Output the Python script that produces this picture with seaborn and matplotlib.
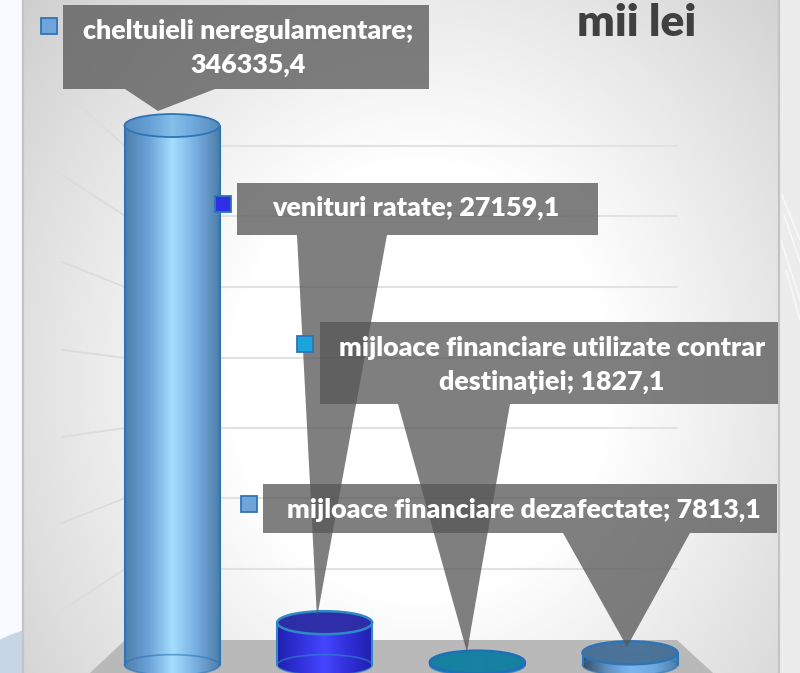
import numpy as np
import matplotlib
matplotlib.use("Agg")
import matplotlib.pyplot as plt
import seaborn as sns
import pandas as pd
from matplotlib.patches import Ellipse, Polygon, Rectangle
from matplotlib.colors import LinearSegmentedColormap

categories = ["cheltuieli neregulamentare", "venituri ratate",
              "mijloace financiare utilizate contrar destinației",
              "mijloace financiare dezafectate"]
values = [346335.4, 27159.1, 1827.1, 7813.1]
value_labels = ["346335,4", "27159,1", "1827,1", "7813,1"]
bar_colors = ["#6ea5dc", "#3333e0", "#1ca5dc", "#6ea5dc"]
grid_px = [146, 216, 287, 358, 428, 498, 569]
wall_px = [90, 175, 262, 350, 437, 523, 610]

sns.set_theme(style="white")
plt.rcParams["font.family"] = ["Lato", "DejaVu Sans"]

W, H = 800, 673
fig = plt.figure(figsize=(W / 100, H / 100), dpi=100)
ax = fig.add_axes([0, 0, 1, 1])

X = lambda px: (px - 172) / 152.67
Y = lambda py: (665 - py) * 642.0
xlim = (X(0), X(W))
ylim = (Y(H), Y(0))

# page background
ax.add_patch(Rectangle((X(0), Y(H)), X(W) - X(0), Y(0) - Y(H), fc="#f8faff", ec="none", zorder=0))
ax.add_patch(Rectangle((X(778), Y(H)), X(W) - X(778), Y(0) - Y(H), fc="#ececec", ec="none", zorder=0))
for a, b, c, d in [(782, 195, 800, 240), (784, 215, 800, 262), (781, 240, 800, 300), (786, 270, 800, 320)]:
    ax.plot([X(a), X(c)], [Y(b), Y(d)], color="white", lw=1.2, alpha=0.6, zorder=0.1)
ax.add_patch(Ellipse((X(60), Y(800)), 300 / 152.67, 350 * 642, fc="#c6d6e7", ec="none", zorder=0.1))

# panel radial gradient
yy, xx = np.mgrid[0:H, 22:779]
r = np.sqrt(((xx - 420) / 420.0) ** 2 + ((yy - 380) / 480.0) ** 2)
cm = LinearSegmentedColormap.from_list("p", ["#ffffff", "#cecece"])
ax.imshow(np.clip((r - 0.45) / 0.8, 0, 1), cmap=cm, vmin=0, vmax=1, aspect="auto", zorder=0.2,
          extent=[X(22), X(779), Y(H), Y(0)], origin="upper")
for p in (22.5, 778.5):
    ax.plot([X(p)] * 2, [Y(0), Y(H)], color="#c4c4c4", lw=1.6, zorder=0.3)

# floor
ax.add_patch(Polygon([(X(90), Y(H)), (X(125), Y(640)), (X(677), Y(640)), (X(713), Y(H))],
                     fc="#b9b9b9", ec="none", zorder=0.5))
# gridlines
for g, w in zip(grid_px, wall_px):
    ax.plot([X(125), X(677)], [Y(g), Y(g)], color="#e2e2e2", lw=1.5, zorder=1)
    ax.plot([X(62), X(125)], [Y(w), Y(g)], color="#dcdcdc", lw=1.3, zorder=1)

df = pd.DataFrame({"cat": categories, "val": values})
sns.barplot(data=df, x="cat", y="val", hue="cat", palette=bar_colors, order=categories, hue_order=categories,
            width=95 / 152.67, saturation=1, legend=False, ax=ax, zorder=2, linewidth=0)

grads = [["#4f7fab", "#6ba3da", "#a3deff", "#78aee2", "#4d7ea8"],
         ["#2020b0", "#3232dc", "#4545ff", "#3030d8", "#2020b0"],
         ["#1580a8", "#1ca5dc", "#40c0ee", "#1ca5dc", "#1580a8"],
         ["#3a4f66", "#5f90c0", "#7ab8f0", "#70a8e0", "#4d7ea8"]]
tops = ["#5f9bd0", "#2e2ea6", "#16809f", "#4b7196"]
top_alpha = [0.45, 0.97, 0.97, 0.97]
top_lw = [1.3, 1.8, 1.8, 1.8]
edges = ["#2e75b6", "#2f88c8", "#1f6fba", "#2e75b6"]
ew = 95 / 152.67
eh = 23 * 642.0
ramp = np.linspace(0, 1, 200)[None, :]
for i, v in enumerate(values):
    x0, x1 = i - ew / 2, i + ew / 2
    gm = LinearSegmentedColormap.from_list("g%d" % i, grads[i])
    for clip in (Rectangle((x0, 0), ew, v, transform=ax.transData),
                 Ellipse((i, 0), ew, eh * 0.9, transform=ax.transData),
                 Ellipse((i, v), ew, eh, transform=ax.transData)):
        im = ax.imshow(ramp, cmap=gm, aspect="auto", extent=[x0, x1, Y(H), Y(0)], zorder=2.1)
        im.set_clip_path(clip)
    ax.add_patch(Ellipse((i, 0), ew, eh * 0.9, fc="none", ec=edges[i], lw=1.2, alpha=0.6, zorder=2.2))
    for xe in (x0, x1):
        ax.plot([xe, xe], [0, v], color=edges[i], lw=1.5, zorder=2.3)
    ax.add_patch(Ellipse((i, v), ew, eh, fc=tops[i], ec="none", alpha=top_alpha[i], zorder=2.4))
    ax.add_patch(Ellipse((i, v), ew, eh, fc="none", ec=edges[i], lw=top_lw[i], zorder=2.5))

# callouts: box, pointer base, pointer tip offset above the value
boxes = [(63, 429, 5, 89, 125, 215, 158, 111),
         (237, 598, 183, 235, 297, 387, 317, 0),
         (320, 778, 322, 404, 398, 510, 467, 0),
         (263, 777, 484, 533, 563, 690, 627, 0)]
tip_gap = [0, 5, 10, 6]
for i, (l, r_, t, b, p0, p1, tx, ty) in enumerate(boxes):
    tip_y = Y(ty) if i == 0 else values[i] + tip_gap[i] * 642
    pts = [(X(l), Y(t)), (X(r_), Y(t)), (X(r_), Y(b)), (X(p1), Y(b)), (X(tx), tip_y),
           (X(p0), Y(b)), (X(l), Y(b))]
    ax.add_patch(Polygon(pts, fc="#575757", ec="none", alpha=0.76, zorder=3 + i * 0.1))

fs = 19.4
txt = dict(color="white", fontweight="heavy", fontsize=fs, ha="center", va="center", zorder=5)
ax.text(X(248.5), Y(48), "cheltuieli neregulamentare;\n" + value_labels[0], linespacing=1.45, **txt)
ax.text(X(416), Y(208), "venituri ratate; " + value_labels[1], **txt)
ax.text(X(552), Y(365), "mijloace financiare utilizate contrar\ndestinației; " + value_labels[2], linespacing=1.5, **txt)
ax.text(X(523.5), Y(510), "mijloace financiare dezafectate; " + value_labels[3], **txt)
ax.text(X(637), Y(23), "mii lei", color="#404040", fontweight="heavy", fontsize=32, ha="center", va="center", zorder=5)

keys = [(41, 18, "#6fa5d8", "#2e75b6"), (215, 196, "#2f2fe6", "#2e75b6"),
        (297, 336, "#1ca5dc", "#2e75b6"), (241, 496, "#6fa5d8", "#2e75b6")]
for kx, ky, fc, ec in keys:
    ax.add_patch(Rectangle((X(kx), Y(ky + 16)), X(kx + 16) - X(kx), Y(ky) - Y(ky + 16), fc=fc, ec=ec, lw=1.3, zorder=6))

ax.set_xlim(*xlim)
ax.set_ylim(*ylim)
ax.axis("off")
fig.savefig("out.png", dpi=100)
